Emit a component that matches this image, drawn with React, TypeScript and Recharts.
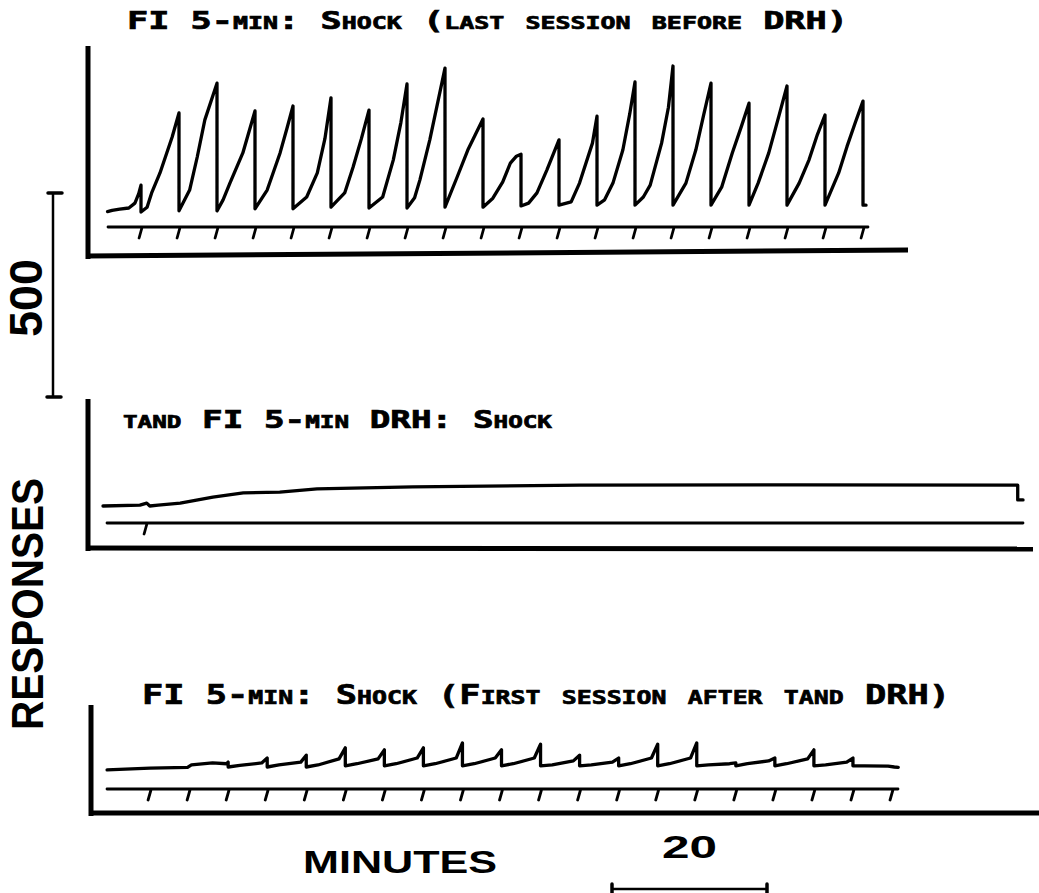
import React from 'react';
import { LineChart, Line, XAxis, YAxis, ReferenceLine } from 'recharts';

const W = 1039;
const H = 893;
const PX_PER_RESP = 204 / 500;

// ---------- data ----------
const titles = [
  'FI 5-min: Shock (last session before DRH)',
  'tand FI 5-min DRH: Shock',
  'FI 5-min: Shock (First session after tand DRH)',
];

const session1Ticks = [5, 10, 15, 20, 25, 30, 35, 40, 45, 50, 55, 60, 65, 70, 75, 80, 85, 90, 95, 100];
const session2Ticks = [5];
const session3Ticks = [5, 10, 15, 20, 25, 30, 35, 40, 45, 50, 55, 60, 65, 70, 75, 80, 85, 90, 95, 100];

// [minute, cumulative responses since last reset]
const session1Record: [number, number][] = [
  [0.6, -9], [1.2, -6], [2.2, -3], [3.4, 0], [4.2, 12], [4.7, 35], [5, 56], [5, -10],
  [5.8, 2], [6.4, 37], [7.5, 86], [9.1, 174], [10, 233], [10, -7],
  [11.4, 44], [12.4, 125], [13.4, 216], [15, 306], [15, -7],
  [15.8, 20], [16.7, 61], [18.4, 135], [20, 238], [20, -2],
  [21.6, 44], [23.3, 135], [24.2, 195], [25, 250], [25, -2],
  [26.8, 27], [28.2, 86], [29.2, 170], [30, 270], [30, 2],
  [31.8, 37], [32.9, 100], [34, 170], [35, 240], [35, 0],
  [36.8, 27], [38.2, 118], [39.2, 210], [40, 304], [40, 0],
  [41, 25], [41.7, 69], [43, 167], [45, 343], [45, 2],
  [46.6, 76], [48, 142], [49, 180], [50, 218], [50, 2],
  [51.3, 24], [52.6, 64], [53.6, 110], [54.4, 127], [55, 132], [55, 5],
  [56, 12], [57.1, 37], [58.4, 93], [60, 167], [60, 7],
  [61.6, 15], [62.7, 61], [64.4, 159], [65, 225], [65, 7],
  [66, 20], [67.1, 61], [68.4, 142], [69.3, 230], [70, 309], [70, 7],
  [71.1, 27], [72, 56], [73.5, 159], [74.4, 247], [75, 348], [75, 7],
  [76.7, 61], [78, 142], [79, 225], [80, 306], [80, 7],
  [81.4, 51], [82.8, 135], [84, 200], [85, 257], [85, 7],
  [86.2, 61], [87.6, 135], [89, 230], [90, 299], [90, 7],
  [91.6, 61], [92.9, 118], [94, 180], [95, 228], [95, 7],
  [96.8, 86], [97.9, 151], [99, 210], [100, 262], [100, 7], [100.4, 7],
];

const session2Record: [number, number][] = [
  [-0.66, 0], [4.2, 2], [5.1, 7], [5.5, 0], [6.6, 2], [9.5, 7], [13.8, 22],
  [17.8, 32], [22.6, 34], [27.5, 42], [40.1, 47], [62.1, 51], [91, 52],
  [119.7, 51], [119.7, 15], [120.4, 15],
];

const session3Record: [number, number][] = [
  [-0.5, -7], [5, -3], [9.8, -1], [10.3, 5], [13, 10], [14.8, 8], [15, 12], [15, 0],
  [16.5, 4], [19.3, 10], [20, 22], [20, 0],
  [21.5, 5], [24.3, 12], [25, 29], [25, 0],
  [26.5, 5], [29.2, 20], [30, 47], [30, 3],
  [31.5, 8], [34.2, 20], [35, 42], [35, 3],
  [36.5, 8], [39.2, 22], [40, 47], [40, 3],
  [41.5, 8], [44.2, 22], [45, 59], [45, 3],
  [46.5, 8], [49.2, 22], [50, 42], [50, 3],
  [51.5, 8], [54.2, 22], [55, 56], [55, 3],
  [56.5, 5], [59.2, 15], [60, 29], [60, 3],
  [61.5, 5], [64.2, 12], [65, 22], [65, 3],
  [66.5, 8], [69.2, 22], [70, 56], [70, 3],
  [71.5, 8], [74.2, 22], [75, 59], [75, 3],
  [76.5, 5], [79.2, 8], [80, 10], [80, 3],
  [81.5, 8], [84.2, 15], [85, 22], [85, 3],
  [86.5, 8], [89.2, 20], [90, 42], [90, 3],
  [91.5, 5], [94.2, 12], [95, 22], [95, 3],
  [96.5, 3], [99.5, 2], [100.3, 0], [100.8, -1],
];

const scaleResponses = 500;
const scaleMinutes = 20;

// ---------- layout ----------
type PanelSpec = {
  top: number;
  height: number;
  x0: number;
  pxPerMin: number;
  basePy: number;
  record: [number, number][];
  ticks: number[];
  eventPy: number;
  eventStartPx: number;
  eventEndPx: number;
  vAxis: [number, number, number];
  hAxis: [number, number, number, number];
};

const panels: PanelSpec[] = [
  {
    top: 0, height: 275, x0: 103, pxPerMin: 7.6, basePy: 208,
    record: session1Record, ticks: session1Ticks,
    eventPy: 227, eventStartPx: 108, eventEndPx: 868,
    vAxis: [88, 46, 259], hAxis: [86, 256, 908, 250],
  },
  {
    top: 390, height: 175, x0: 108, pxPerMin: 7.6, basePy: 506,
    record: session2Record, ticks: session2Ticks,
    eventPy: 523, eventStartPx: 107, eventEndPx: 1023,
    vAxis: [88, 399, 551], hAxis: [86, 548, 1033, 549],
  },
  {
    top: 690, height: 140, x0: 111, pxPerMin: 7.81, basePy: 767,
    record: session3Record, ticks: session3Ticks,
    eventPy: 789, eventStartPx: 107, eventEndPx: 898,
    vAxis: [91, 705, 816], hAxis: [89, 813, 1039, 813],
  },
];

function Panel({ p }: { p: PanelSpec }) {
  const m = (px: number) => (px - p.x0) / p.pxPerMin;
  const r = (py: number) => (p.basePy - py) / PX_PER_RESP;
  const xDomain: [number, number] = [m(0), m(W)];
  const yDomain: [number, number] = [r(p.top + p.height), r(p.top)];
  const recordData = p.record.map(([t, v]) => ({ t, v }));
  const eBase = r(p.eventPy);
  const eDepth = 11 / PX_PER_RESP;
  const eventData: { t: number; v: number }[] = [{ t: m(p.eventStartPx), v: eBase }];
  p.ticks.forEach((t) => {
    eventData.push({ t: t + 0.15, v: eBase }, { t: t - 0.25, v: eBase - eDepth }, { t: t + 0.15, v: eBase });
  });
  eventData.push({ t: m(p.eventEndPx), v: eBase });
  const [vx, vy1, vy2] = p.vAxis;
  const [hx1, hy1, hx2, hy2] = p.hAxis;
  return (
    <div style={{ position: 'absolute', left: 0, top: p.top }}>
      <LineChart width={W} height={p.height} margin={{ top: 0, right: 0, bottom: 0, left: 0 }}>
        <XAxis type="number" dataKey="t" domain={xDomain} allowDataOverflow hide />
        <YAxis type="number" domain={yDomain} allowDataOverflow hide />
        <ReferenceLine
          segment={[{ x: m(vx), y: r(vy1) }, { x: m(vx), y: r(vy2) }]}
          stroke="#000" strokeWidth={5} ifOverflow="visible"
        />
        <ReferenceLine
          segment={[{ x: m(hx1), y: r(hy1) }, { x: m(hx2), y: r(hy2) }]}
          stroke="#000" strokeWidth={5} ifOverflow="visible"
        />
        <Line data={eventData} dataKey="v" type="linear" stroke="#000" strokeWidth={2.8}
          dot={false} activeDot={false} isAnimationActive={false} strokeLinejoin="round" strokeLinecap="round" />
        <Line data={recordData} dataKey="v" type="linear" stroke="#000" strokeWidth={3.3}
          dot={false} activeDot={false} isAnimationActive={false} strokeLinejoin="round" strokeLinecap="round" />
      </LineChart>
    </div>
  );
}

const titleStyle: React.CSSProperties = {
  fontFamily: '"DejaVu Sans Mono", monospace',
  fontWeight: 'bold',
  fontVariant: 'small-caps',
};
const labelFont = '"Liberation Sans", Arial, sans-serif';

export default function App() {
  const bar500 = scaleResponses * PX_PER_RESP;
  const bar20 = scaleMinutes * 7.75;
  return (
    <div style={{ position: 'absolute', left: 0, top: 0, width: W, height: H, background: '#fff', overflow: 'hidden' }}>
      {panels.map((p, i) => <Panel key={i} p={p} />)}
      <svg width={W} height={H} style={{ position: 'absolute', left: 0, top: 0, pointerEvents: 'none' }}>
        <text x={127} y={29} fontSize={24} textLength={721} lengthAdjust="spacingAndGlyphs"
          stroke="#000" strokeWidth={0.7} style={titleStyle}>{titles[0]}</text>
        <text x={123} y={428} fontSize={24} textLength={429} lengthAdjust="spacingAndGlyphs"
          stroke="#000" strokeWidth={0.7} style={titleStyle}>{titles[1]}</text>
        <text x={142} y={704} fontSize={27} textLength={808} lengthAdjust="spacingAndGlyphs"
          stroke="#000" strokeWidth={0.7} style={titleStyle}>{titles[2]}</text>

        {/* response scale bar */}
        <line x1={53} y1={193} x2={53} y2={193 + bar500} stroke="#000" strokeWidth={2.5} />
        <line x1={48} y1={193} x2={62} y2={193} stroke="#000" strokeWidth={3.5} strokeLinecap="round" />
        <line x1={47} y1={193 + bar500} x2={61} y2={193 + bar500} stroke="#000" strokeWidth={3.5} strokeLinecap="round" />
        <text x={42} y={298} transform="rotate(-90 42 298)" textAnchor="middle" fontSize={46} fontWeight="bold"
          fontFamily={labelFont} textLength={78} lengthAdjust="spacingAndGlyphs">500</text>
        <text x={43} y={604} transform="rotate(-90 43 604)" textAnchor="middle" fontSize={44} fontWeight="bold"
          fontFamily={labelFont} textLength={252} lengthAdjust="spacingAndGlyphs">RESPONSES</text>

        {/* minutes scale bar */}
        <text x={303} y={873} fontSize={32} fontWeight="bold" fontFamily={labelFont}
          textLength={194} lengthAdjust="spacingAndGlyphs">MINUTES</text>
        <text x={662} y={858} fontSize={32} fontWeight="bold" fontFamily={labelFont}
          textLength={55} lengthAdjust="spacingAndGlyphs">20</text>
        <line x1={612} y1={889} x2={612 + bar20} y2={889} stroke="#000" strokeWidth={2.5} />
        <line x1={612} y1={884} x2={612} y2={894} stroke="#000" strokeWidth={3.5} strokeLinecap="round" />
        <line x1={612 + bar20} y1={884} x2={612 + bar20} y2={894} stroke="#000" strokeWidth={3.5} strokeLinecap="round" />
      </svg>
    </div>
  );
}
